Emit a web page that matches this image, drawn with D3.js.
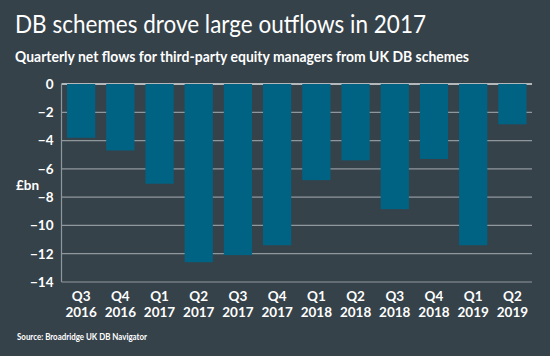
<!DOCTYPE html>
<html><head><meta charset="utf-8">
<script src="https://cdn.jsdelivr.net/npm/d3@7"></script>
<style>
html,body{margin:0;padding:0;background:#36424a;}
svg{display:block;}
text{font-family:Lato,"Open Sans",sans-serif;fill:#fff;}
</style></head>
<body>
<svg id="chart" width="550" height="356"></svg>
<script>
const quarters = ["Q3","Q4","Q1","Q2","Q3","Q4","Q1","Q2","Q3","Q4","Q1","Q2"];
const years = ["2016","2016","2017","2017","2017","2017","2018","2018","2018","2018","2019","2019"];
const flows = [-3.8,-4.7,-7.05,-12.6,-12.1,-11.4,-6.8,-5.4,-8.85,-5.3,-11.4,-2.85];
const yTicks = [0,-2,-4,-6,-8,-10,-12,-14];

(function(){
const svg = d3.select("#chart");
svg.append("rect").attr("width",550).attr("height",356).attr("fill","#36424a");

const pl = 61.5, pr = 532, pt = 84, pb = 282;
const cats = quarters.map((q,i)=>q+" "+years[i]);
const x = d3.scaleBand().domain(cats).range([pl,pr]).paddingInner(0.28).paddingOuter(0.14);
const y = d3.scaleLinear().domain([0,-14]).range([pt,pb]);

function fit(sel, w){
  const n = sel.node(); const L = n.getComputedTextLength();
  if (Math.abs(L-w) > 2) sel.attr("textLength", w).attr("lengthAdjust","spacingAndGlyphs");
}

const t = svg.append("text").attr("x",15).attr("y",33).attr("font-size",25).attr("font-weight",400)
  .text("DB schemes drove large outflows in 2017");
fit(t, 411);
const st = svg.append("text").attr("x",15).attr("y",62).attr("font-size",15).attr("font-weight",700)
  .text("Quarterly net flows for third-party equity managers from UK DB schemes");
fit(st, 454);

const g = svg.append("g");
g.selectAll("line.grid").data(yTicks).join("line")
  .attr("x1",pl).attr("x2",pr)
  .attr("y1",d=>y(d)).attr("y2",d=>y(d))
  .attr("stroke",d=>d===0?"#b4b8bb":"#8f979c").attr("stroke-width",d=>d===0?2:1.2);
g.append("line").attr("x1",pl).attr("x2",pl).attr("y1",pt).attr("y2",pb)
  .attr("stroke","#8f979c").attr("stroke-width",1.2);

svg.append("g").selectAll("rect").data(flows).join("rect")
  .attr("x",(d,i)=>x(cats[i])).attr("width",x.bandwidth())
  .attr("y",y(0)).attr("height",d=>y(d)-y(0))
  .attr("fill","#006384");

const yAxis = d3.axisLeft(y).tickValues(yTicks).tickSize(0).tickPadding(8).tickFormat(d3.format("d"));
const ya = svg.append("g").attr("transform",`translate(${pl},0)`).call(yAxis);
ya.select(".domain").remove();
ya.selectAll("text").attr("font-size",13.5).attr("font-weight",700).attr("fill","#fff")
  .style("font-family","Lato,sans-serif");

svg.append("text").attr("x",16).attr("y",190).attr("font-size",13.5).attr("font-weight",700).text("£bn");

const xa = svg.append("g");
cats.forEach((c,i)=>{
  const cx = x(c)+x.bandwidth()/2;
  xa.append("text").attr("x",cx).attr("y",300.5).attr("text-anchor","middle")
    .attr("font-size",13.5).attr("font-weight",700).text(quarters[i]);
  xa.append("text").attr("x",cx).attr("y",317).attr("text-anchor","middle")
    .attr("font-size",13.5).attr("font-weight",700).text(years[i]);
});

const src = svg.append("text").attr("x",17).attr("y",339.5).attr("font-size",9.5).attr("font-weight",700)
  .text("Source: Broadridge UK DB Navigator");
fit(src, 130);
})();
</script>
</body></html>
